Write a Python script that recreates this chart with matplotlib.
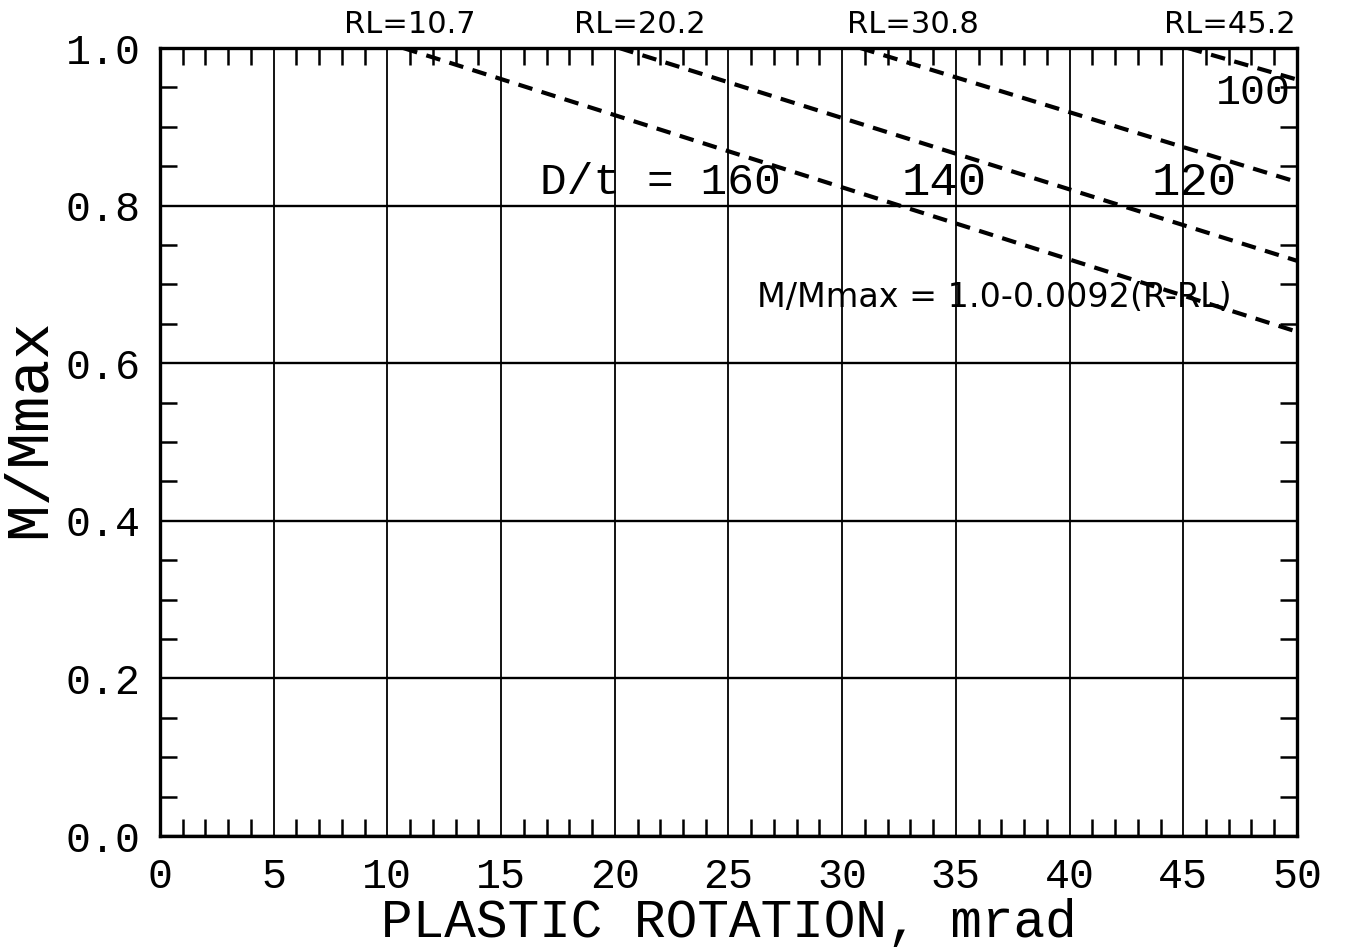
import matplotlib.pyplot as plt
from matplotlib.ticker import MultipleLocator

# limit rotations (start of each dashed line, at M/Mmax = 1.0)
rl = [10.7, 20.2, 30.8, 45.2]
rl_labels = ["RL=10.7", "RL=20.2", "RL=30.8", "RL=45.2"]
# value of each line read at the right edge (R = 50)
y_end = [0.64, 0.73, 0.83, 0.96]
x_end = 50
dt_labels = ["D/t = 160", "140", "120", "100"]

mono = "Liberation Mono"
hand = "DejaVu Sans"

fig = plt.figure(figsize=(13.5, 9.51), dpi=100)
ax = fig.add_axes([0.1185, 0.1209, 0.8422, 0.8286])

for r, ye in zip(rl, y_end):
    ax.plot([r, x_end], [1.0, ye], color="black", lw=3.0,
            dashes=(3.5, 2.3), clip_on=True)

ax.set_xlim(0, 50)
ax.set_ylim(0, 1.0)
ax.xaxis.set_major_locator(MultipleLocator(5))
ax.xaxis.set_minor_locator(MultipleLocator(1))
ax.yaxis.set_major_locator(MultipleLocator(0.2))
ax.yaxis.set_minor_locator(MultipleLocator(0.05))
ax.yaxis.set_major_formatter(plt.FuncFormatter(lambda v, p: f"{v:.1f}"))

ax.grid(axis="x", which="major", color="black", lw=1.3)
ax.grid(axis="y", which="major", color="black", lw=1.7)
ax.tick_params(which="major", length=0, labelsize=30)
ax.tick_params(axis="x", which="major", pad=15)
ax.tick_params(axis="y", which="major", pad=14)
ax.tick_params(which="minor", direction="in", length=12, width=1.8,
               top=True, right=True)
for lab in ax.get_xticklabels() + ax.get_yticklabels():
    lab.set_family(mono)
for s in ax.spines.values():
    s.set_linewidth(2.4)

ax.set_xlabel("PLASTIC ROTATION, mrad", family=mono, fontsize=38, labelpad=1)
ax.set_ylabel("M/Mmax", family=mono, fontsize=44)
ax.yaxis.set_label_coords(-0.09, 0.518)

# D/t labels
ax.text(22.0, 0.829, dt_labels[0], family=mono, fontsize=32, ha="center", va="center")
ax.text(34.5, 0.829, dt_labels[1], family=mono, fontsize=34, ha="center", va="center")
ax.text(45.5, 0.829, dt_labels[2], family=mono, fontsize=34, ha="center", va="center")
ax.text(48.1, 0.943, dt_labels[3], family=mono, fontsize=30, ha="center", va="center")

# handwritten annotations
label_x = [11.0, 21.1, 33.1, 47.05]
for lx, t in zip(label_x, rl_labels):
    ax.text(lx, 1.03, t, family=hand, fontsize=22, ha="center", va="center",
            clip_on=False)
ax.text(36.7, 0.683, "M/Mmax = 1.0-0.0092(R-RL)", family=hand, fontsize=24,
        ha="center", va="center")

fig.savefig("out.png", dpi=100)
